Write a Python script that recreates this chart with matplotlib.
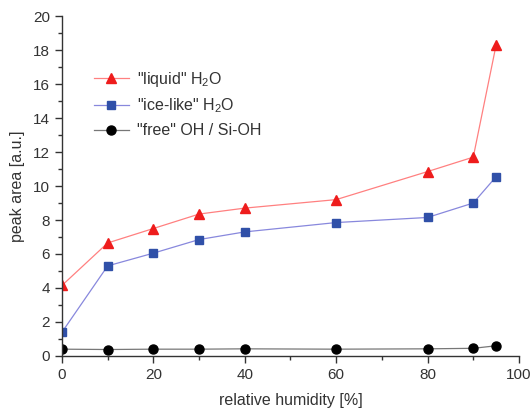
import matplotlib
matplotlib.use("Agg")
import matplotlib.pyplot as plt
from matplotlib.ticker import MultipleLocator

plt.rcParams["font.family"] = ["Liberation Sans", "DejaVu Sans"]
plt.rcParams["mathtext.fontset"] = "custom"
plt.rcParams["mathtext.rm"] = "Liberation Sans"

humidity = [0, 10, 20, 30, 40, 60, 80, 90, 95]
liquid = [4.15, 6.65, 7.5, 8.35, 8.7, 9.2, 10.85, 11.7, 18.3]
ice_like = [1.4, 5.3, 6.05, 6.85, 7.3, 7.85, 8.15, 9.0, 10.55]
free_oh = [0.4, 0.38, 0.4, 0.4, 0.42, 0.4, 0.42, 0.45, 0.6]

text_color = "#333333"

fig = plt.figure(figsize=(5.32, 4.12), dpi=100)
ax = fig.add_axes([0.1165, 0.136, 0.859, 0.825])

ax.plot(humidity, liquid, color="#ff8080", lw=0.9, marker="^", ms=7,
        mfc="#ee1c1c", mec="#ee1c1c", label='"liquid" H$_2$O')
ax.plot(humidity, ice_like, color="#8888dd", lw=0.9, marker="s", ms=6,
        mfc="#3050a8", mec="#3050a8", label='"ice-like" H$_2$O')
ax.plot(humidity, free_oh, color="#777777", lw=0.9, marker="o", ms=6.5,
        mfc="black", mec="black", label='"free" OH / Si-OH')

ax.set_xlim(0, 100)
ax.set_ylim(0, 20)
ax.xaxis.set_major_locator(MultipleLocator(20))
ax.xaxis.set_minor_locator(MultipleLocator(10))
ax.yaxis.set_major_locator(MultipleLocator(2))
ax.yaxis.set_minor_locator(MultipleLocator(1))
ax.spines["top"].set_visible(False)
ax.spines["right"].set_visible(False)
for s in ["left", "bottom"]:
    ax.spines[s].set_color(text_color)
    ax.spines[s].set_linewidth(1.0)
ax.tick_params(which="major", direction="out", length=5, width=1,
               colors=text_color, labelsize=11)
ax.tick_params(which="minor", direction="out", length=3, width=1, colors=text_color)

ax.set_xlabel("relative humidity [%]", fontsize=11.5, color=text_color, labelpad=8)
ax.set_ylabel("peak area [a.u.]", fontsize=11.5, color=text_color, labelpad=6)

leg = ax.legend(loc="upper left", bbox_to_anchor=(0.155, 0.858),
                bbox_transform=fig.transFigure, frameon=False,
                fontsize=11.5, handlelength=2.2, handletextpad=0.5,
                labelspacing=0.5, borderpad=0.2)
for t in leg.get_texts():
    t.set_color(text_color)

fig.savefig("out.png", dpi=100)
